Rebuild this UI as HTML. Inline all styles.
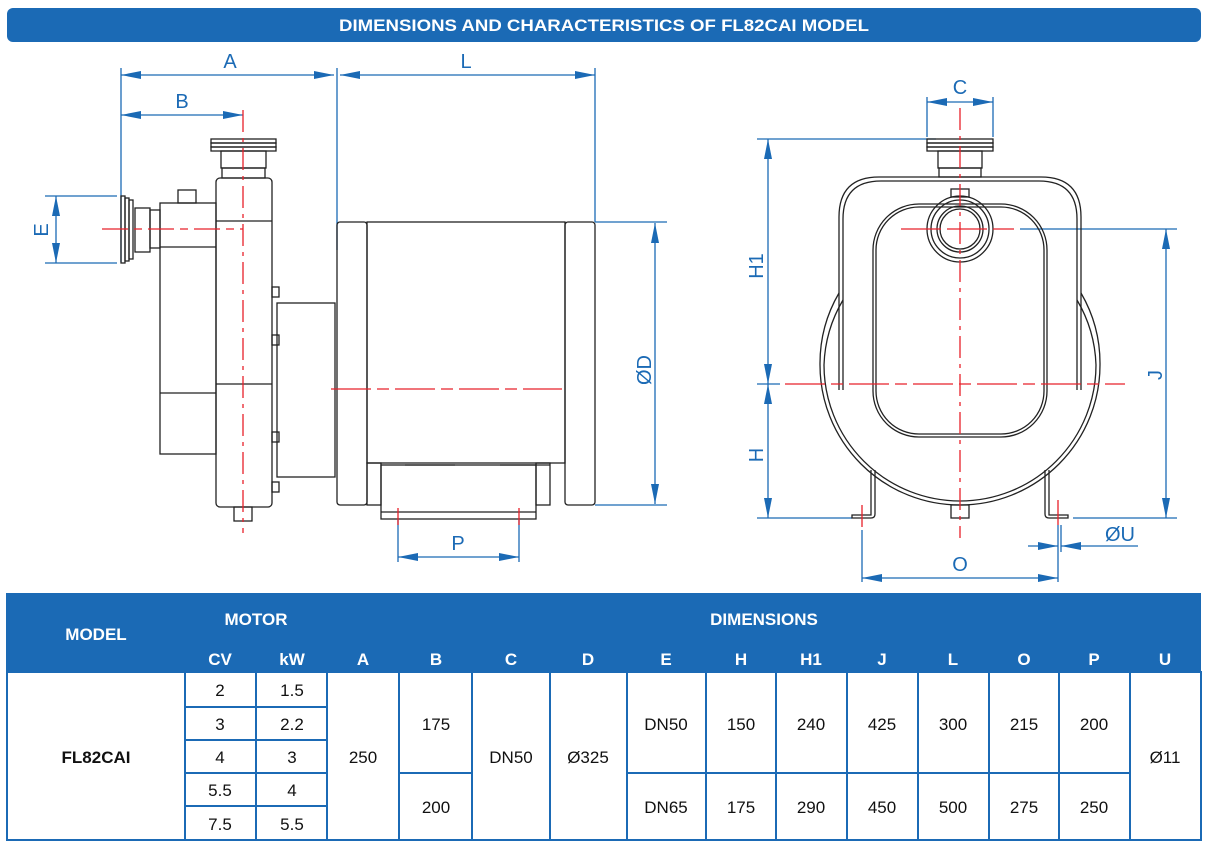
<!DOCTYPE html>
<html><head><meta charset="utf-8"><style>
html,body{margin:0;padding:0;background:#fff;}
svg{display:block;}
text{font-family:"Liberation Sans",sans-serif;}
</style></head><body>
<svg width="1206" height="844" viewBox="0 0 1206 844" xmlns="http://www.w3.org/2000/svg">
<defs>
<marker id="ar" viewBox="0 0 20 8" refX="20" refY="4" markerWidth="20" markerHeight="8" markerUnits="userSpaceOnUse" orient="auto-start-reverse"><path d="M0,0 L20,4 L0,8 z" fill="#1b6ab5"/></marker>
</defs>
<rect x="7" y="8" width="1194" height="34" rx="6" fill="#1b6ab5"/>
<text x="604" y="31" font-size="17" font-weight="bold" fill="#fff" text-anchor="middle" textLength="530" lengthAdjust="spacingAndGlyphs">DIMENSIONS AND CHARACTERISTICS OF FL82CAI MODEL</text>

<g fill="none" stroke="#1b6ab5" stroke-width="1.3">
<line x1="121" y1="68" x2="121" y2="262"/>
<line x1="337" y1="68" x2="337" y2="250"/>
<line x1="595" y1="68" x2="595" y2="222"/>
<line x1="121" y1="75" x2="334" y2="75" marker-start="url(#ar)" marker-end="url(#ar)"/>
<line x1="340" y1="75" x2="595" y2="75" marker-start="url(#ar)" marker-end="url(#ar)"/>
<line x1="121" y1="115" x2="243" y2="115" marker-start="url(#ar)" marker-end="url(#ar)"/>
<line x1="45" y1="196" x2="117" y2="196"/>
<line x1="45" y1="263" x2="117" y2="263"/>
<line x1="56" y1="196" x2="56" y2="263" marker-start="url(#ar)" marker-end="url(#ar)"/>
<line x1="595" y1="222" x2="667" y2="222"/>
<line x1="595" y1="505" x2="667" y2="505"/>
<line x1="655" y1="223" x2="655" y2="504" marker-start="url(#ar)" marker-end="url(#ar)"/>
<line x1="398" y1="520" x2="398" y2="562"/>
<line x1="519" y1="520" x2="519" y2="562"/>
<line x1="398" y1="557" x2="519" y2="557" marker-start="url(#ar)" marker-end="url(#ar)"/>
</g>
<g fill="#1b6ab5" font-size="20" text-anchor="middle">
<text x="230" y="68">A</text>
<text x="466" y="68">L</text>
<text x="182" y="108">B</text>
<text x="458" y="550">P</text>
<text transform="translate(48,230) rotate(-90)">E</text>
<text transform="translate(651,370) rotate(-90)">ØD</text>
</g>
<g fill="none" stroke="#222" stroke-width="1.3">
<rect x="211" y="139" width="65" height="4"/>
<rect x="211" y="143" width="65" height="4"/>
<rect x="211" y="147" width="65" height="4"/>
<rect x="221" y="151" width="45" height="17"/>
<rect x="222" y="168" width="43" height="10"/>
<rect x="216" y="178" width="56" height="329" rx="4"/>
<line x1="216" y1="221" x2="272" y2="221"/>
<line x1="216" y1="384" x2="272" y2="384"/>
<rect x="160" y="203" width="56" height="251"/>
<line x1="160" y1="247" x2="216" y2="247"/>
<line x1="160" y1="393" x2="216" y2="393"/>
<rect x="178" y="190" width="18" height="13"/>
<rect x="150" y="210" width="10" height="38"/>
<rect x="135" y="208" width="15" height="44"/>
<rect x="121" y="196" width="4" height="67"/>
<rect x="125" y="198" width="4" height="63"/>
<rect x="129" y="200" width="4" height="59"/>
<rect x="272" y="287" width="7" height="10"/>
<rect x="272" y="335" width="7" height="10"/>
<rect x="272" y="432" width="7" height="10"/>
<rect x="272" y="482" width="7" height="10"/>
<rect x="277" y="303" width="58" height="174"/>
<rect x="337" y="222" width="30" height="283" rx="3"/>
<rect x="367" y="222" width="198" height="241"/>
<rect x="565" y="222" width="30" height="283" rx="3"/>
<rect x="367" y="463" width="14" height="42"/>
<rect x="536" y="463" width="14" height="42"/>
<rect x="381" y="465" width="155" height="54"/>
<line x1="381" y1="512" x2="536" y2="512"/>
<line x1="405" y1="465" x2="455" y2="465"/>
<line x1="500" y1="465" x2="550" y2="465"/>
<rect x="234" y="507" width="18" height="14"/>
</g>
<g stroke="#e8202a" stroke-width="1.3" fill="none">
<line x1="243" y1="110" x2="243" y2="533" stroke-dasharray="22,6,4,6"/>
<line x1="102" y1="229" x2="243" y2="229" stroke-dasharray="26,6,8,6"/>
<line x1="331" y1="389" x2="562" y2="389" stroke-dasharray="40,6,12,6"/>
<line x1="398" y1="508" x2="398" y2="525"/>
<line x1="519" y1="508" x2="519" y2="525"/>
</g>

<g fill="none" stroke="#1b6ab5" stroke-width="1.3">
<line x1="927" y1="97" x2="927" y2="137"/>
<line x1="993" y1="97" x2="993" y2="137"/>
<line x1="927" y1="102" x2="993" y2="102" marker-start="url(#ar)" marker-end="url(#ar)"/>
<line x1="757" y1="139" x2="936" y2="139"/>
<line x1="768" y1="139" x2="768" y2="384" marker-start="url(#ar)" marker-end="url(#ar)"/>
<line x1="768" y1="384" x2="768" y2="518" marker-start="url(#ar)" marker-end="url(#ar)"/>
<line x1="757" y1="384" x2="780" y2="384"/>
<line x1="757" y1="518" x2="852" y2="518"/>
<line x1="1073" y1="518" x2="1177" y2="518"/>
<line x1="1020" y1="229" x2="1177" y2="229"/>
<line x1="1166" y1="229" x2="1166" y2="518" marker-start="url(#ar)" marker-end="url(#ar)"/>
<line x1="862" y1="530" x2="862" y2="582"/>
<line x1="1058" y1="525" x2="1058" y2="582"/>
<line x1="862" y1="578" x2="1058" y2="578" marker-start="url(#ar)" marker-end="url(#ar)"/>
<line x1="1061" y1="525" x2="1061" y2="552"/>
<line x1="1028" y1="546" x2="1058" y2="546" marker-end="url(#ar)"/>
<line x1="1138" y1="546" x2="1061" y2="546" marker-end="url(#ar)"/>
</g>
<g fill="#1b6ab5" font-size="20" text-anchor="middle">
<text x="960" y="94">C</text>
<text x="960" y="571">O</text>
<text x="1120" y="541">ØU</text>
<text transform="translate(763,266) rotate(-90)">H1</text>
<text transform="translate(763,455) rotate(-90)">H</text>
<text transform="translate(1162,375) rotate(-90)">J</text>
</g>
<g fill="none" stroke="#222" stroke-width="1.3">
<rect x="927" y="139" width="66" height="4"/>
<rect x="927" y="143" width="66" height="4"/>
<rect x="927" y="147" width="66" height="4"/>
<rect x="938" y="151" width="44" height="17"/>
<rect x="939" y="168" width="42" height="9"/>
<path d="M839,293 L839,217 Q839,177 879,177 L1041,177 Q1081,177 1081,217 L1081,293"/>
<path d="M843,293 L843,219 Q843,181 881,181 L1039,181 Q1077,181 1077,219 L1077,293"/>
<path d="M839,293 L839,390 M1081,293 L1081,390"/>
<path d="M843,293 L843,390 M1077,293 L1077,390"/>
<path d="M839,293 A140,140 0 0,0 820,365 A140,140 0 0,0 960,505 A140,140 0 0,0 1100,365 A140,140 0 0,0 1081,293"/>
<path d="M843,300 A136,136 0 0,0 824,365 A136,136 0 0,0 960,501 A136,136 0 0,0 1096,365 A136,136 0 0,0 1077,300"/>
<rect x="873" y="204" width="174" height="233" rx="46"/>
<rect x="876" y="207" width="168" height="227" rx="43"/>
<circle cx="960" cy="229" r="33"/>
<circle cx="960" cy="229" r="29"/>
<circle cx="960" cy="229" r="23"/>
<circle cx="960" cy="229" r="20"/>
<rect x="951" y="189" width="18" height="8"/>
<path d="M875,470 L875,514 Q875,518 871,518 L852,518 L852,515 L871,515 L871,470"/>
<path d="M1045,470 L1045,514 Q1045,518 1049,518 L1068,518 L1068,515 L1049,515 L1049,470"/>
<rect x="951" y="505" width="18" height="13"/>
</g>
<g stroke="#e8202a" stroke-width="1.3" fill="none">
<line x1="960" y1="108" x2="960" y2="538" stroke-dasharray="22,6,4,6"/>
<line x1="785" y1="384" x2="1125" y2="384" stroke-dasharray="40,6,12,6"/>
<line x1="901" y1="229" x2="1014" y2="229" stroke-dasharray="40,6"/>
<line x1="862" y1="505" x2="862" y2="527"/>
<line x1="1058" y1="500" x2="1058" y2="525"/>
</g>

<rect x="6" y="593" width="1195" height="79" fill="#1b6ab5"/>
<g fill="#fff" font-size="17" font-weight="bold" text-anchor="middle">
<text x="96" y="640">MODEL</text>
<text x="256" y="625">MOTOR</text>
<text x="764" y="625">DIMENSIONS</text>
<text x="220" y="665">CV</text><text x="292" y="665">kW</text>
<text x="363" y="665">A</text><text x="436" y="665">B</text>
<text x="511" y="665">C</text><text x="588" y="665">D</text>
<text x="666" y="665">E</text><text x="741" y="665">H</text>
<text x="811" y="665">H1</text><text x="882" y="665">J</text>
<text x="953" y="665">L</text><text x="1024" y="665">O</text>
<text x="1094" y="665">P</text><text x="1165" y="665">U</text>
</g>
<g stroke="#1b6ab5" stroke-width="2" fill="none">
<rect x="7" y="672" width="1194" height="168"/>
<line x1="185" y1="672" x2="185" y2="840"/>
<line x1="256" y1="672" x2="256" y2="840"/>
<line x1="327" y1="672" x2="327" y2="840"/>
<line x1="399" y1="672" x2="399" y2="840"/>
<line x1="472" y1="672" x2="472" y2="840"/>
<line x1="550" y1="672" x2="550" y2="840"/>
<line x1="627" y1="672" x2="627" y2="840"/>
<line x1="706" y1="672" x2="706" y2="840"/>
<line x1="776" y1="672" x2="776" y2="840"/>
<line x1="847" y1="672" x2="847" y2="840"/>
<line x1="918" y1="672" x2="918" y2="840"/>
<line x1="989" y1="672" x2="989" y2="840"/>
<line x1="1059" y1="672" x2="1059" y2="840"/>
<line x1="1130" y1="672" x2="1130" y2="840"/>
<line x1="185" y1="707" x2="327" y2="707"/>
<line x1="185" y1="740" x2="327" y2="740"/>
<line x1="185" y1="773" x2="327" y2="773"/>
<line x1="185" y1="806" x2="327" y2="806"/>
<line x1="399" y1="773" x2="472" y2="773"/>
<line x1="627" y1="773" x2="1130" y2="773"/>
</g>
<g fill="#111" font-size="17" text-anchor="middle">
<text x="96" y="763" font-weight="bold">FL82CAI</text>
<text x="220" y="696">2</text><text x="292" y="696">1.5</text>
<text x="220" y="730">3</text><text x="292" y="730">2.2</text>
<text x="220" y="763">4</text><text x="292" y="763">3</text>
<text x="220" y="796">5.5</text><text x="292" y="796">4</text>
<text x="220" y="830">7.5</text><text x="292" y="830">5.5</text>
<text x="363" y="763">250</text>
<text x="436" y="730">175</text>
<text x="436" y="813">200</text>
<text x="511" y="763">DN50</text>
<text x="588" y="763">Ø325</text>
<text x="666" y="730">DN50</text><text x="741" y="730">150</text><text x="811" y="730">240</text>
<text x="882" y="730">425</text><text x="953" y="730">300</text><text x="1024" y="730">215</text><text x="1094" y="730">200</text>
<text x="666" y="813">DN65</text><text x="741" y="813">175</text><text x="811" y="813">290</text>
<text x="882" y="813">450</text><text x="953" y="813">500</text><text x="1024" y="813">275</text><text x="1094" y="813">250</text>
<text x="1165" y="763">Ø11</text>
</g>
</svg>
</body></html>
